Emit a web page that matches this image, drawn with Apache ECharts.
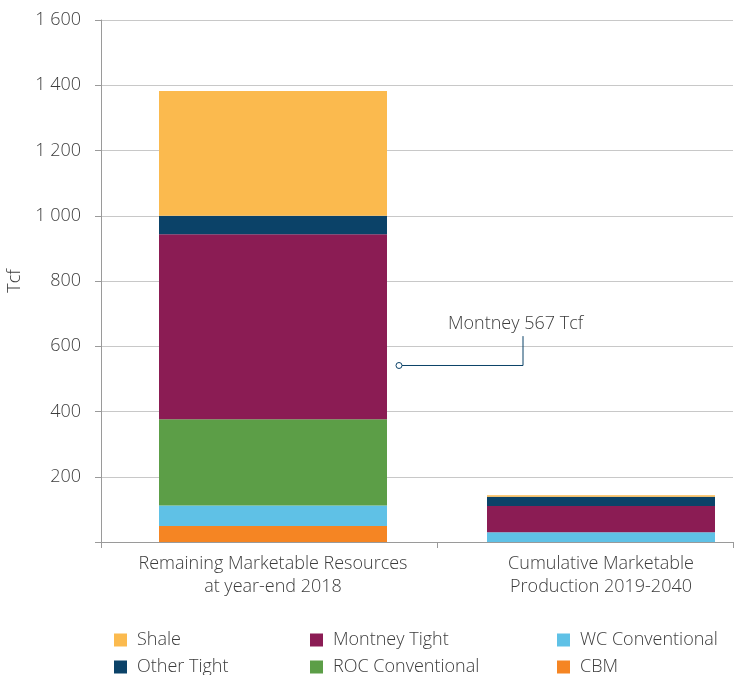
<!DOCTYPE html>
<html>
<head>
<meta charset="utf-8">
<script src="https://cdn.jsdelivr.net/npm/echarts@6/dist/echarts.min.js"></script>
<style>
html,body{margin:0;padding:0;background:#fff;}
#main{width:746px;height:675px;}
</style>
</head>
<body>
<div id="main"></div>
<script>
var categories = ['Remaining Marketable Resources\nat year-end 2018', 'Cumulative Marketable\nProduction 2019-2040'];
var seriesNames = ['CBM', 'WC Conventional', 'ROC Conventional', 'Montney Tight', 'Other Tight', 'Shale'];
var cbm = [49, 0];
var wcConventional = [63, 30];
var rocConventional = [264, 0];
var montneyTight = [567, 80];
var otherTight = [57, 29];
var shale = [382, 4];
var yTicks = [0, 200, 400, 600, 800, 1000, 1200, 1400, 1600];
var annotationText = 'Montney 567 Tcf';

var colors = {
  'CBM': '#F58523',
  'WC Conventional': '#5FC1E6',
  'ROC Conventional': '#5C9E47',
  'Montney Tight': '#8B1C54',
  'Other Tight': '#0B4268',
  'Shale': '#FBBA4E'
};
var values = [cbm, wcConventional, rocConventional, montneyTight, otherTight, shale];
var FONT = '"Open Sans"';
var FW = 300;
var FS = 18;
var TXT = '#3c3c3c';

var chart = echarts.init(document.getElementById('main'), null, {renderer: 'canvas'});

var series = seriesNames.map(function (n, i) {
  return {
    name: n, type: 'bar', stack: 'total',
    xAxisIndex: 1, yAxisIndex: 1,
    barWidth: 228,
    itemStyle: {color: colors[n]},
    data: values[i]
  };
});

function fmt(v) {
  if (v === 0) return '';
  var s = String(v);
  return s.length > 3 ? s.slice(0, s.length - 3) + ' ' + s.slice(-3) : s;
}

var legendLayout = [
  ['Shale', 114, 631], ['Montney Tight', 310, 631], ['WC Conventional', 557, 631],
  ['Other Tight', 114, 658], ['ROC Conventional', 310, 658], ['CBM', 557, 658]
];
var legends = legendLayout.map(function (l) {
  return {
    data: [l[0]], left: l[1], top: l[2], padding: 0,
    icon: 'rect', itemWidth: 13, itemHeight: 13,
    textStyle: {fontFamily: FONT, fontSize: FS, color: TXT, fontWeight: FW, padding: [0, 0, 0, 5]}
  };
});

chart.setOption({
  animation: false,
  backgroundColor: '#fff',
  legend: legends,
  grid: [
    {left: 101, right: 13, top: 20, bottom: 133, outerBoundsMode: 'none'},
    {left: 109, width: 656, top: 20, bottom: 133, outerBoundsMode: 'none'}
  ],
  xAxis: [
    {gridIndex: 0, type: 'value', min: 0, max: 632, interval: 336,
      axisLine: {show: true, lineStyle: {color: '#9a9a9a', width: 1}},
      axisTick: {show: true, length: 6, lineStyle: {color: '#9a9a9a'}},
      axisLabel: {show: false}, splitLine: {show: false}},
    {gridIndex: 1, type: 'category', data: categories,
      axisLine: {show: false}, axisTick: {show: false}, splitLine: {show: false},
      axisLabel: {interval: 0, hideOverlap: false, margin: 10, fontFamily: FONT, fontSize: FS, color: TXT, fontWeight: FW, lineHeight: 23}}
  ],
  yAxis: [
    {gridIndex: 0, type: 'value', min: yTicks[0], max: yTicks[yTicks.length - 1], interval: 200,
      name: 'Tcf', nameLocation: 'middle', nameRotate: 90, nameGap: 73,
      nameTextStyle: {fontFamily: FONT, fontSize: FS, color: TXT, fontWeight: FW},
      axisLine: {show: true, lineStyle: {color: '#9a9a9a', width: 1}},
      axisTick: {show: true, length: 6, lineStyle: {color: '#9a9a9a'}},
      axisLabel: {margin: 20, fontFamily: FONT, fontSize: FS, color: TXT, fontWeight: FW, formatter: fmt},
      splitLine: {show: true, lineStyle: {color: '#c8c8c8', width: 1}}},
    {gridIndex: 1, type: 'value', min: yTicks[0], max: yTicks[yTicks.length - 1], interval: 200,
      show: false, splitLine: {show: false}}
  ],
  series: series
});

// Annotation anchored through the chart's own scales
var yCircle = chart.convertToPixel({yAxisIndex: 1}, 541);
var yTop = chart.convertToPixel({yAxisIndex: 1}, 631);
var yText = chart.convertToPixel({yAxisIndex: 1}, 670);
var xCenter = chart.convertToPixel({xAxisIndex: 1}, 0);
var xCircle = xCenter + 114 + 12;
var xVert = xCircle + 124;
var lineColor = '#0B4268';
chart.setOption({
  graphic: [
    {type: 'polyline', z: 100, shape: {points: [[xCircle + 3, yCircle], [xVert, yCircle], [xVert, yTop]]},
      style: {stroke: lineColor, lineWidth: 1, fill: null}},
    {type: 'circle', z: 101, shape: {cx: xCircle, cy: yCircle, r: 3},
      style: {stroke: lineColor, lineWidth: 1, fill: '#fff'}},
    {type: 'text', z: 101, x: xVert - 75, y: yText,
      style: {text: annotationText, fontFamily: FONT, fontSize: FS, fontWeight: FW, fill: TXT, verticalAlign: 'middle'}}
  ]
});
</script>
</body>
</html>
